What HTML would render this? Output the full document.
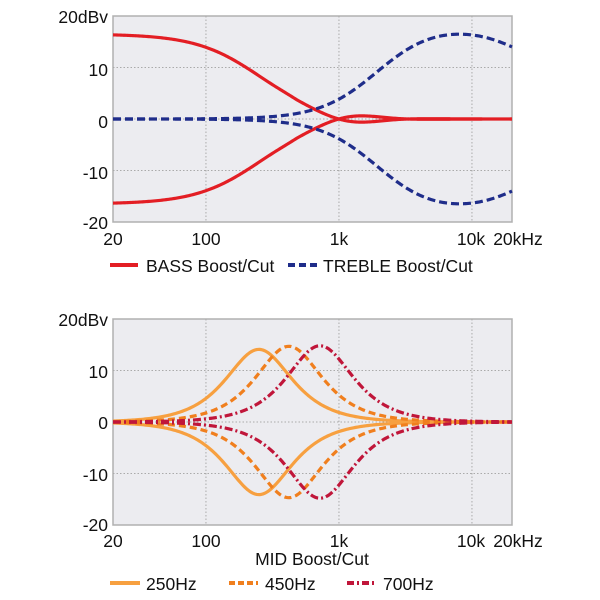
<!DOCTYPE html>
<html><head><meta charset="utf-8">
<style>
html,body{margin:0;padding:0;background:#fff;}
svg{display:block;font-family:"Liberation Sans",Arial,sans-serif;}
</style></head>
<body>
<svg id="s" width="600" height="600" viewBox="0 0 600 600" xmlns="http://www.w3.org/2000/svg">
<g id="g1"></g><g id="g2"></g>
<g font-size="17.5" fill="#111">
<text x="108" y="23" text-anchor="end">20dBv</text>
<text x="108" y="76" text-anchor="end">10</text>
<text x="108" y="128" text-anchor="end">0</text>
<text x="108" y="179" text-anchor="end">-10</text>
<text x="108" y="229" text-anchor="end">-20</text>
<text x="113" y="245" text-anchor="middle">20</text>
<text x="206" y="245" text-anchor="middle">100</text>
<text x="339" y="245" text-anchor="middle">1k</text>
<text x="471" y="245" text-anchor="middle">10k</text>
<text x="518" y="245" text-anchor="middle">20kHz</text>
<line x1="110" y1="265" x2="138" y2="265" stroke="#e31e24" stroke-width="4"/>
<text x="146" y="272">BASS Boost/Cut</text>
<line x1="288" y1="265" x2="317" y2="265" stroke="#1f2d8a" stroke-width="4" stroke-dasharray="7,4"/>
<text x="323" y="272">TREBLE Boost/Cut</text>

<text x="108" y="326" text-anchor="end">20dBv</text>
<text x="108" y="378" text-anchor="end">10</text>
<text x="108" y="429" text-anchor="end">0</text>
<text x="108" y="481" text-anchor="end">-10</text>
<text x="108" y="531" text-anchor="end">-20</text>
<text x="113" y="547" text-anchor="middle">20</text>
<text x="206" y="547" text-anchor="middle">100</text>
<text x="339" y="547" text-anchor="middle">1k</text>
<text x="471" y="547" text-anchor="middle">10k</text>
<text x="518" y="547" text-anchor="middle">20kHz</text>
<text x="312" y="565" text-anchor="middle">MID Boost/Cut</text>
<line x1="110" y1="583" x2="140" y2="583" stroke="#f7a040" stroke-width="4"/>
<text x="146" y="590">250Hz</text>
<line x1="229" y1="583" x2="258" y2="583" stroke="#f07f1e" stroke-width="4" stroke-dasharray="6,3"/>
<text x="265" y="590">450Hz</text>
<line x1="347" y1="583" x2="375" y2="583" stroke="#c0163a" stroke-width="4" stroke-dasharray="7,3,2,3"/>
<text x="383" y="590">700Hz</text>
</g>
</svg>
<script>
var NS="http://www.w3.org/2000/svg";
function X(f){return 113+133*(Math.log10(f)-Math.log10(20));}
function el(p,n,a){var e=document.createElementNS(NS,n);for(var k in a)e.setAttribute(k,a[k]);p.appendChild(e);return e;}
function plot(g,top,bot,curves){
  var y0=(top+bot)/2, s=(bot-top)/40;
  el(g,"rect",{x:113,y:top,width:399,height:bot-top,fill:"#ececf0",stroke:"#b0b0b0","stroke-width":1.5});
  [100,1000,10000].forEach(function(f){el(g,"line",{x1:X(f),x2:X(f),y1:top,y2:bot,stroke:"#aaa","stroke-dasharray":"1.5,2","stroke-width":1});});
  [-10,0,10].forEach(function(d){el(g,"line",{x1:113,x2:512,y1:y0-d*s,y2:y0-d*s,stroke:"#aaa","stroke-dasharray":"1.5,2","stroke-width":1});});
  curves.forEach(function(c){
    var d="";
    for(var i=0;i<=300;i++){var lf=Math.log10(20)+3*i/300,f=Math.pow(10,lf);
      var v=c.fn(f);d+=(i?"L":"M")+X(f).toFixed(2)+","+(y0-v*s).toFixed(2);}
    var a={d:d,fill:"none",stroke:c.col,"stroke-width":3.2};
    if(c.dash)a["stroke-dasharray"]=c.dash;
    el(g,"path",a);
  });
}
function bump(f){var t=(Math.log10(f)-Math.log10(1200))/0.3;return Math.exp(-t*t);}
function bass(f){return 16.5/(1+Math.pow(f/255,1.8))-1.4*bump(f)*(f>500?1:Math.exp(-Math.pow(Math.log10(500/f)/0.1,2)));}
function treb(f){return 18.6/(1+Math.pow(1950/f,2.0))-10*Math.log10(1+Math.pow(f/15000,2));}
plot(document.getElementById("g1"),16,222,[
 {fn:function(f){return bass(f)},col:"#e31e24"},
 {fn:function(f){return -bass(f)},col:"#e31e24"},
 {fn:treb,col:"#1f2d8a",dash:"8,4"},
 {fn:function(f){return -treb(f)},col:"#1f2d8a",dash:"8,4"}
]);
function bell(A,f0,f){var r=f/f0-f0/f;return A/(1+0.47*r*r);}
var mids=[[14.1,250,"#f7a040",null],[14.7,420,"#f07f1e","7,4"],[14.8,720,"#c0163a","8,3,2,3"]];
var cs=[];
mids.forEach(function(m){
 cs.push({fn:function(f){return bell(m[0],m[1],f)},col:m[2],dash:m[3]});
 cs.push({fn:function(f){return -bell(m[0],m[1],f)},col:m[2],dash:m[3]});
});
plot(document.getElementById("g2"),319,525,cs);
</script>
</body></html>
